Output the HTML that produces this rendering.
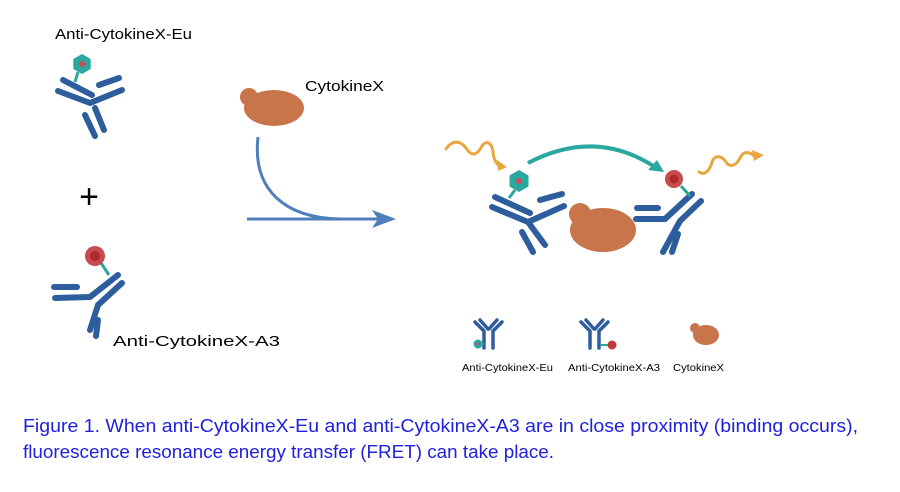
<!DOCTYPE html>
<html><head><style>
body{margin:0;background:#fff;}
svg{display:block}
text{font-family:"Liberation Sans",sans-serif;}
</style></head><body>
<svg width="900" height="492" viewBox="0 0 900 492">
<g stroke="#2e5d9e" stroke-width="6" stroke-linecap="round" stroke-linejoin="round" fill="none">
 <polyline points="63,80 92,95"/>
 <polyline points="58,91 90,103 122,90"/>
 <polyline points="99,85 119,78"/>
 <polyline points="85,115 95,136"/>
 <polyline points="95,108 104,130"/>
 <polyline points="54,287 77,287"/>
 <polyline points="55,298 90,297 118,275"/>
 <polyline points="122,283 98,305 90,330"/>
 <polyline points="98,320 96,336"/>
 <polyline points="495,197 530,213"/>
 <polyline points="492,207 528,222 564,206"/>
 <polyline points="540,200 562,194"/>
 <polyline points="522,232 533,252"/>
 <polyline points="528,222 545,245"/>
 <polyline points="637,208 658,208"/>
 <polyline points="636,219 665,219 692,194"/>
 <polyline points="701,201 680,221 663,252"/>
 <polyline points="678,234 672,252"/>
</g>
<line x1="78" y1="72" x2="75" y2="82" stroke="#2aa79e" stroke-width="3"/>
<polygon points="82,54 90.7,59 90.7,69 82,74 73.3,69 73.3,59" fill="#2aa79e"/>
<circle cx="82" cy="64" r="3" fill="#d04a5a"/>
<line x1="101" y1="263" x2="109" y2="275" stroke="#2aa79e" stroke-width="3"/>
<circle cx="95" cy="256" r="10" fill="#c0393b" opacity="0.9"/>
<circle cx="95" cy="256" r="5" fill="#b02a2a"/>
<line x1="515" y1="190" x2="509" y2="198" stroke="#2aa79e" stroke-width="3"/>
<polygon points="519,170 528.5,175.5 528.5,186.5 519,192 509.5,186.5 509.5,175.5" fill="#2aa79e"/>
<circle cx="519" cy="181" r="3" fill="#d04a5a"/>
<line x1="681" y1="186" x2="690" y2="196" stroke="#2aa79e" stroke-width="3"/>
<circle cx="674" cy="179" r="9" fill="#c0393b" opacity="0.9"/>
<circle cx="674" cy="179" r="4.5" fill="#b02a2a"/>
<g fill="#c8754b">
 <ellipse cx="274" cy="108" rx="30" ry="18"/><circle cx="249" cy="97" r="9"/>
 <ellipse cx="603" cy="230" rx="33" ry="22"/><circle cx="580" cy="214" r="11"/>
 <ellipse cx="706" cy="335" rx="13" ry="10"/><circle cx="695" cy="328" r="5"/>
</g>
<g stroke="#4f7fba" stroke-width="3" fill="none">
 <path d="M258,137 C252,190 285,218 340,219"/>
 <line x1="247" y1="219" x2="380" y2="219"/>
</g>
<polygon points="396,219 372,210 378,219 372,228" fill="#4f7fba"/>
<path d="M528,163 Q595,128 655,167" stroke="#2aa79e" stroke-width="4" fill="none"/>
<polygon points="664,172 648,170 657,160" fill="#2aa79e"/>
<g stroke="#e9a63e" stroke-width="3" fill="none" stroke-linecap="round">
 <path d="M446,149 C452,140 460,140 466,148 C472,158 478,154 482,146 C486,140 492,142 493,152 C494,162 498,166 502,166"/>
 <path d="M699,172 C705,176 710,170 712,162 C715,154 722,156 726,162 C730,168 736,166 740,158 C744,150 750,152 754,156"/>
</g>
<polygon points="507,167 497,160 498,171" fill="#e9a63e"/>
<polygon points="764,155 752,150 754,161" fill="#e9a63e"/>
<g stroke="#2e5d9e" stroke-width="3.5" stroke-linecap="round" fill="none">
 <polyline points="475,322 484,331 484,348"/><polyline points="480,320 488,329"/>
 <polyline points="502,322 493,331 493,348"/><polyline points="497,320 489,329"/>
 <polyline points="581,322 590,331 590,348"/><polyline points="586,320 594,329"/>
 <polyline points="608,322 599,331 599,348"/><polyline points="603,320 595,329"/>
</g>
<line x1="479" y1="344" x2="484" y2="344" stroke="#2aa79e" stroke-width="2"/>
<circle cx="478" cy="344" r="4.5" fill="#2aa79e"/><circle cx="478" cy="344" r="1.5" fill="#d04a5a"/>
<line x1="600" y1="345" x2="610" y2="345" stroke="#2aa79e" stroke-width="2"/>
<circle cx="612" cy="345" r="4.5" fill="#c0393b"/>
<text x="55" y="39" font-size="15" textLength="137" lengthAdjust="spacingAndGlyphs">Anti-CytokineX-Eu</text>
<text x="305" y="91" font-size="15" textLength="79" lengthAdjust="spacingAndGlyphs">CytokineX</text>
<text x="113" y="346" font-size="15" textLength="167" lengthAdjust="spacingAndGlyphs">Anti-CytokineX-A3</text>
<text x="89" y="208" font-size="34" text-anchor="middle">+</text>
<text x="462" y="371" font-size="10" textLength="91" lengthAdjust="spacingAndGlyphs">Anti-CytokineX-Eu</text>
<text x="568" y="371" font-size="10" textLength="92" lengthAdjust="spacingAndGlyphs">Anti-CytokineX-A3</text>
<text x="673" y="371" font-size="10" textLength="51" lengthAdjust="spacingAndGlyphs">CytokineX</text>
<text x="23" y="432" font-size="18" fill="#2020dd" textLength="835" lengthAdjust="spacingAndGlyphs">Figure 1.  When anti-CytokineX-Eu and anti-CytokineX-A3 are in close proximity (binding occurs),</text>
<text x="23" y="458" font-size="18" fill="#2020dd" textLength="531" lengthAdjust="spacingAndGlyphs">fluorescence resonance energy transfer (FRET) can take place.</text>
</svg>
</body></html>
